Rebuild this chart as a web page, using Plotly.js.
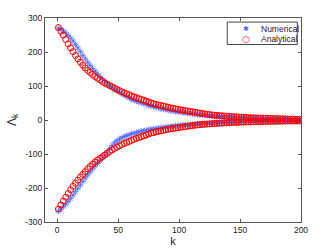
<!DOCTYPE html>
<html>
<head>
<meta charset="utf-8">
<script src="https://cdn.plot.ly/plotly-3.0.1.min.js"></script>
<style>html,body{margin:0;padding:0;background:#fff;}#chart{width:332px;height:250px;}</style>
</head>
<body>
<div id="chart"></div>
<script>
const kValues = [1,3,5,7,9,11,13,15,17,19,21,23,25,27,29,31,33,35,37,39,41,43,45,47,49,51,53,55,57,59,61,63,65,67,69,71,73,75,77,79,81,83,85,87,89,91,93,95,97,99,101,103,105,107,109,111,113,115,117,119,121,123,125,127,129,131,133,135,137,139,141,143,145,147,149,151,153,155,157,159,161,163,165,167,169,171,173,175,177,179,181,183,185,187,189,191,193,195,197,199];

const numericalUpper = [270,267,262,256,249,241,232,222,212,201,190,180,170,161,152,144,136,128,121,114,107,101,96,91,86,82,77,73,69,65,61,58,55,53,50.5,48,46,43.5,41,39.5,37.5,36,34,32.5,31,29,27.5,26,25,24,23,22,21,20,19,18,17,16,15.5,15,14,13.5,13,12,11.5,11,10.5,10,9.5,9,8.5,8,8,7.5,7,7,6.5,6,6,5.5,5.5,5,5,4.5,4.5,4,4,3.5,3.5,3,3,2.5,2.5,2.5,2,2,2,1.5,1.5,1];

const numericalLower = [-268,-262,-255,-248,-240,-231,-221,-211,-201,-191,-181,-171,-162,-153,-144,-136,-128,-120,-112,-104,-95,-84,-75,-67,-61,-56,-52,-49,-46,-43.5,-41,-39,-37,-35,-33,-31.5,-30,-28.5,-27,-26,-25,-24,-23,-22,-21,-20,-19,-18,-17,-16.5,-16,-15,-14.5,-14,-13,-12.5,-12,-11.5,-11,-10.5,-10,-9.5,-9,-8.5,-8.5,-8,-7.5,-7,-7,-6.5,-6.5,-6,-6,-5.5,-5.5,-5,-5,-4.5,-4.5,-4.5,-4,-4,-4,-3.5,-3.5,-3.5,-3,-3,-3,-3,-2.5,-2.5,-2.5,-2.5,-2,-2,-2,-2,-2,-2];

const analyticalUpper = [272,261,250,237,224,212,201,190,180,170,161,153,146,140,134,128,123,118,113.5,109,105,101.5,98,94,90,86.5,83,80,77,74,71,68,65.5,63,60.5,58,55.5,53,50,48,46,44.5,43,41,39.5,37.5,36,34.5,33,31.5,30,29,27.5,26.5,25,24,23,21.5,20,19,18,17,16,15,14,13.5,13,12.5,12,11,10.5,10,9.5,9,8.5,8,7.5,7,7,6.5,6.5,6,6,5.5,5.5,5,5,4.5,4.5,4,4,3.5,3.5,3,3,2.5,2.5,2,2,2];

const analyticalLower = [-262,-250,-238,-227,-216,-205,-195,-186,-177,-168,-160,-152,-144,-137,-130,-124,-118,-113,-108,-103,-98,-93,-88,-84,-80,-76,-72,-69,-66,-63,-60,-57,-54,-51.5,-49,-47,-44,-41,-38.5,-37,-35,-33.5,-32,-30.5,-29,-27.5,-26,-25,-24,-22.5,-21.5,-20.5,-19.5,-18.5,-17.5,-16.5,-15.5,-14.5,-13.5,-13,-12.5,-12,-11.5,-11,-10.5,-10,-9.5,-9,-8.5,-8,-8,-7.5,-7,-7,-6.5,-6.5,-6,-6,-5.5,-5.5,-5,-5,-5,-4.5,-4.5,-4.5,-4,-4,-4,-3.5,-3.5,-3.5,-3.5,-3,-3,-3,-3,-3,-3,-3];

const xTickVals = [0,50,100,150,200];
const xTickLabels = ['0','50','100','150','200'];
const yTickVals = [-300,-200,-100,0,100,200,300];
const yTickLabels = ['-300','-200','-100','0','100','200','300'];
const seriesNames = ['Numerical','Analytical'];

const blueColor = 'rgba(70,100,255,0.75)';
const redColor = 'rgb(255,0,0)';
const blueMarker = {symbol:'asterisk-open', size:5, color:blueColor, line:{color:blueColor, width:1}};
const redMarker = {symbol:'circle-open', size:6, color:redColor, line:{color:redColor, width:1}};

const traces = [
  {x:kValues, y:numericalUpper, type:'scatter', mode:'markers', name:seriesNames[0], marker:blueMarker},
  {x:kValues, y:numericalLower, type:'scatter', mode:'markers', name:seriesNames[0], marker:blueMarker},
  {x:kValues, y:analyticalUpper, type:'scatter', mode:'markers', name:seriesNames[1], marker:redMarker},
  {x:kValues, y:analyticalLower, type:'scatter', mode:'markers', name:seriesNames[1], marker:redMarker}
];

const fontFam = 'Liberation Sans, Arial, sans-serif';
const axisCommon = {
  showgrid:false, zeroline:false, showline:true, mirror:'ticks',
  linecolor:'#555', linewidth:1, ticks:'inside', ticklen:3, tickcolor:'#555',
  tickfont:{family:fontFam, size:8.5, color:'#222'}
};

const legendAnn = [
  {xref:'paper', yref:'paper', x:0.785, y:0.947, text:'✱', showarrow:false, xanchor:'center', yanchor:'middle',
   font:{family:'DejaVu Sans', size:7, color:'rgb(70,100,255)'}},
  {xref:'paper', yref:'paper', x:0.785, y:0.895, text:'○', showarrow:false, xanchor:'center', yanchor:'middle',
   font:{family:'DejaVu Sans', size:9, color:redColor}},
  {xref:'paper', yref:'paper', x:0.837, y:0.947, text:seriesNames[0], showarrow:false, xanchor:'left', yanchor:'middle',
   font:{family:fontFam, size:8.5, color:'#222'}},
  {xref:'paper', yref:'paper', x:0.837, y:0.895, text:seriesNames[1], showarrow:false, xanchor:'left', yanchor:'middle',
   font:{family:fontFam, size:8.5, color:'#222'}}
];

const layout = {
  width:332, height:250,
  margin:{l:45, r:31, t:18, b:28},
  paper_bgcolor:'#fff', plot_bgcolor:'#fff',
  showlegend:false,
  xaxis:Object.assign({}, axisCommon, {range:[-10,200], tickmode:'array', tickvals:xTickVals, ticktext:xTickLabels,
    title:{text:'k', font:{family:fontFam, size:11, color:'#222'}, standoff:2}}),
  yaxis:Object.assign({}, axisCommon, {range:[-300,300], tickmode:'array', tickvals:yTickVals, ticktext:yTickLabels,
    title:{text:'Λ<sub>k</sub>', font:{family:fontFam, size:12, color:'#222'}, standoff:6}}),
  shapes:[{type:'rect', xref:'paper', yref:'paper', x0:0.712, x1:0.9855, y0:0.870, y1:0.980,
    line:{color:'#444', width:1}, fillcolor:'#fff', layer:'above'}],
  annotations:legendAnn
};

Plotly.newPlot('chart', traces, layout, {staticPlot:true, displayModeBar:false});
</script>
</body>
</html>
